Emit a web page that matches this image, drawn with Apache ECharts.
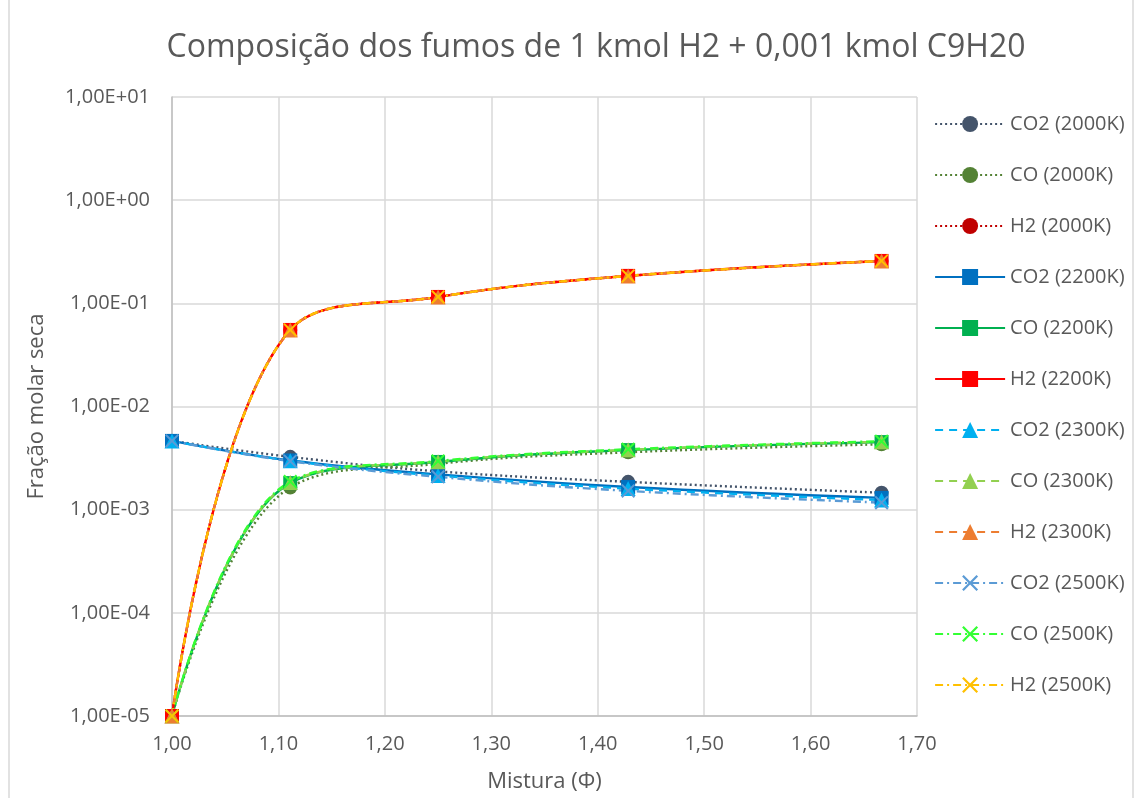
<!DOCTYPE html>
<html>
<head>
	<meta charset="UTF-8">
	<title>Composição dos fumos</title>
	<script src="https://cdn.jsdelivr.net/npm/echarts@6/dist/echarts.min.js"></script>
	<style>
		html, body { margin:0; padding:0; background:#fff; }
		#chart { width:1135px; height:798px; }
	</style>
</head>
<body>
<div id="chart"></div>
<script type="text/javascript">
	// razões de mistura (Φ)
	var phi = [1.0, 1.1111, 1.25, 1.4286, 1.6667];

	var co2_2000 = [0.00464, 0.00325, 0.00235, 0.00186, 0.00146];
	var co_2000  = [0.00001, 0.00164, 0.00278, 0.00360, 0.00430];
	var h2_2000  = [0.00001, 0.0552, 0.1153, 0.1845, 0.2576];

	var co2_2200 = [0.00464, 0.00300, 0.00220, 0.00166, 0.00130];
	var co_2200  = [0.00001, 0.00181, 0.00290, 0.00378, 0.00452];
	var h2_2200  = [0.00001, 0.0552, 0.1153, 0.1845, 0.2576];

	var co2_2300 = [0.00464, 0.00298, 0.00214, 0.00160, 0.00124];
	var co_2300  = [0.00001, 0.00183, 0.00292, 0.00380, 0.00455];
	var h2_2300  = [0.00001, 0.0552, 0.1153, 0.1845, 0.2576];

	var co2_2500 = [0.00464, 0.00295, 0.00208, 0.00152, 0.00117];
	var co_2500  = [0.00001, 0.00187, 0.00296, 0.00385, 0.00460];
	var h2_2500  = [0.00001, 0.0552, 0.1153, 0.1845, 0.2576];

	var crossPath = 'path://M1,0 L5,4 L9,0 L10,1 L6,5 L10,9 L9,10 L5,6 L1,10 L0,9 L4,5 L0,1 Z';
	var textColor = '#595959';
	var font = 'Open Sans';

	function pairs(values)
	{
		var out = [];
		for (var i = 0; i < phi.length; i++) out.push([phi[i], values[i]]);
		return out;
	}

	function makeSeries(name, values, color, dash, symbol)
	{
		return {
			name: name,
			type: 'line',
			smooth: 0.4,
			data: pairs(values),
			symbol: symbol,
			symbolSize: symbol === 'triangle' ? 15 : 14,
			showAllSymbol: true,
			lineStyle: { color: color, width: 2.4, type: dash },
			itemStyle: { color: color },
			emphasis: { disabled: true }
		};
	}

	function sciLabel(v)
	{
		var e = Math.round(Math.log10(v));
		var sign = e < 0 ? '-' : '+';
		var a = Math.abs(e);
		return '1,00E' + sign + (a < 10 ? '0' + a : a);
	}

	var chart = echarts.init(document.getElementById('chart'));
	var dotted = [2, 3];
	var dashed = [8, 6];
	var dashDot = [8, 4, 2, 4];

	var option =
	{
		backgroundColor: '#fff',
		animation: false,
		title: {
			text: 'Composição dos fumos de 1 kmol H2 + 0,001 kmol C9H20',
			left: 591,
			textAlign: 'center',
			top: 27,
			textStyle: { fontFamily: font, fontSize: 32, fontWeight: 'normal', color: textColor }
		},
		grid: { left: 172, right: 218, top: 97, bottom: 82 },
		legend: {
			orient: 'vertical',
			left: 929,
			top: 109,
			itemWidth: 70,
			itemHeight: 20,
			itemGap: 31,
			lineStyle: { width: 2.2 },
			textStyle: { fontFamily: font, fontSize: 20, color: textColor },
			data: ['CO2 (2000K)', 'CO (2000K)', 'H2 (2000K)', 'CO2 (2200K)', 'CO (2200K)', 'H2 (2200K)',
				'CO2 (2300K)', 'CO (2300K)', 'H2 (2300K)', 'CO2 (2500K)', 'CO (2500K)', 'H2 (2500K)']
		},
		xAxis: {
			type: 'value',
			min: 1,
			max: 1.7,
			interval: 0.1,
			name: 'Mistura (Φ)',
			nameLocation: 'middle',
			nameGap: 55,
			nameTextStyle: { fontFamily: font, fontSize: 22, color: textColor },
			axisLine: { lineStyle: { color: '#BFBFBF', width: 1.5 } },
			axisTick: { show: false },
			axisLabel: {
				fontFamily: font, fontSize: 20, color: textColor, margin: 18,
				formatter: function(v) { return v.toFixed(2).replace('.', ','); }
			},
			splitLine: { show: true, lineStyle: { color: '#D9D9D9', width: 1.5 } }
		},
		yAxis: {
			type: 'log',
			logBase: 10,
			min: 0.00001,
			max: 10,
			name: 'Fração molar seca',
			nameLocation: 'middle',
			nameGap: 124,
			nameTextStyle: { fontFamily: font, fontSize: 22, color: textColor },
			axisLine: { show: true, lineStyle: { color: '#BFBFBF', width: 1.5 } },
			axisTick: { show: false },
			axisLabel: { fontFamily: font, fontSize: 20, color: textColor, margin: 22, formatter: sciLabel },
			splitLine: { show: true, lineStyle: { color: '#D9D9D9', width: 1.5 } }
		},
		graphic: [{
			type: 'rect',
			shape: { x: 9, y: -2, width: 1124, height: 810 },
			style: { fill: 'none', stroke: '#D9D9D9', lineWidth: 1.5 },
			silent: true
		}],
		series: [
			makeSeries('CO2 (2000K)', co2_2000, '#44546A', dotted, 'circle'),
			makeSeries('CO (2000K)', co_2000, '#548235', dotted, 'circle'),
			makeSeries('H2 (2000K)', h2_2000, '#C00000', dotted, 'circle'),
			makeSeries('CO2 (2200K)', co2_2200, '#0070C0', 'solid', 'rect'),
			makeSeries('CO (2200K)', co_2200, '#00B050', 'solid', 'rect'),
			makeSeries('H2 (2200K)', h2_2200, '#FF0000', 'solid', 'rect'),
			makeSeries('CO2 (2300K)', co2_2300, '#00B0F0', dashed, 'triangle'),
			makeSeries('CO (2300K)', co_2300, '#92D050', dashed, 'triangle'),
			makeSeries('H2 (2300K)', h2_2300, '#ED7D31', dashed, 'triangle'),
			makeSeries('CO2 (2500K)', co2_2500, '#5B9BD5', dashDot, crossPath),
			makeSeries('CO (2500K)', co_2500, '#33FF33', dashDot, crossPath),
			makeSeries('H2 (2500K)', h2_2500, '#FFC000', dashDot, crossPath)
		]
	};
	chart.setOption(option);
</script>
</body>
</html>
